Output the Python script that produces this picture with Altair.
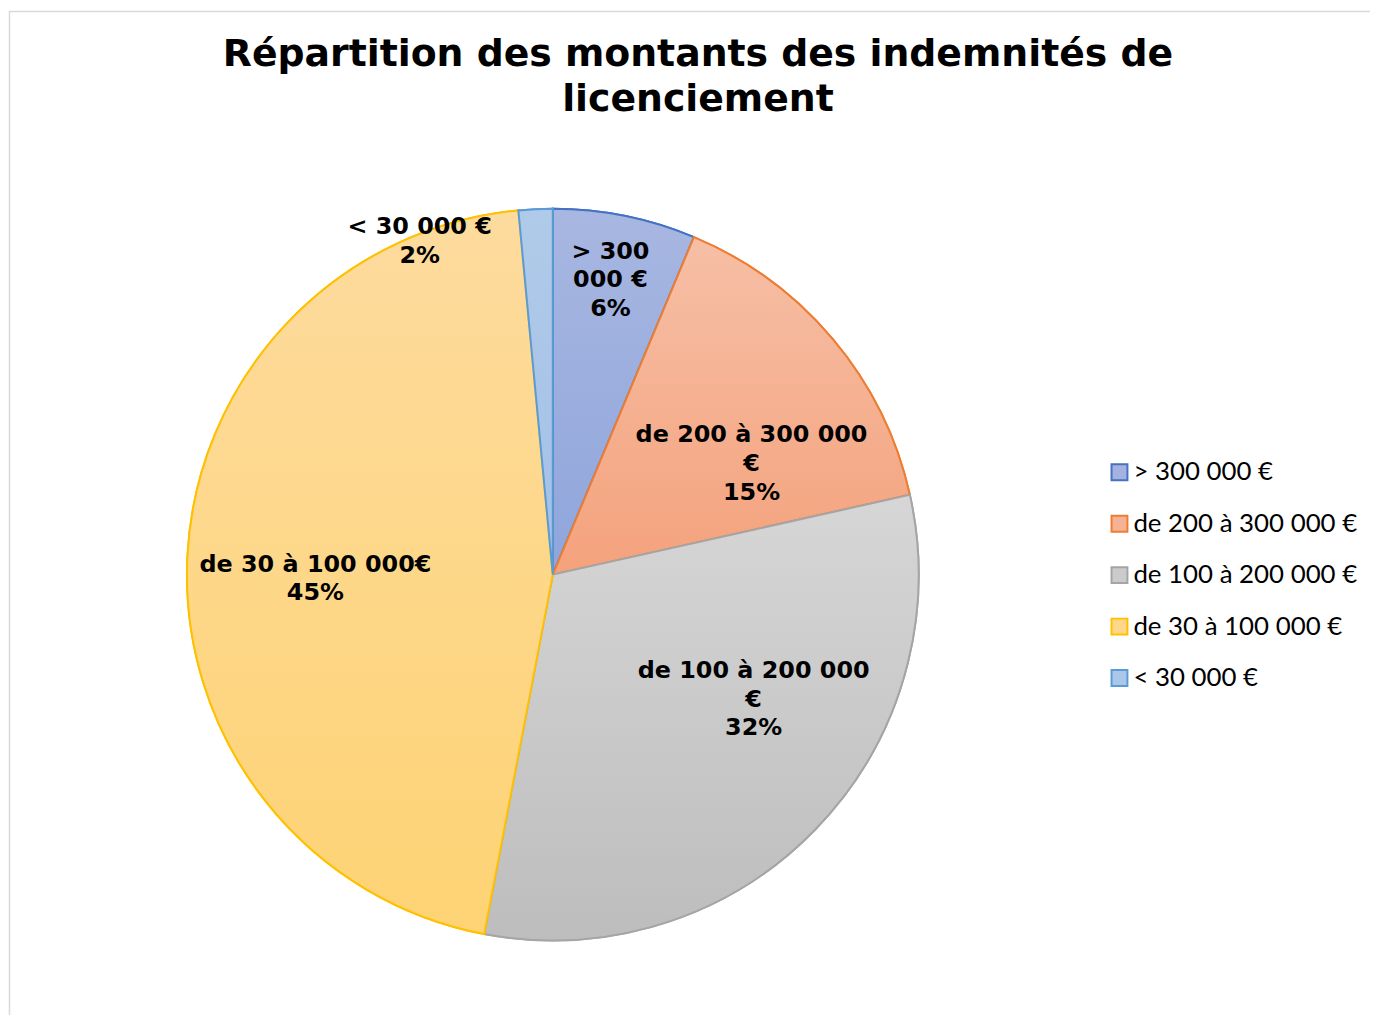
import altair as alt
import pandas as pd

# ---- data ----
categories = ["> 300 000 €", "de 200 à 300 000 €", "de 100 à 200 000 €",
              "de 30 à 100 000 €", "< 30 000 €"]
values = [6.3, 15.2, 31.5, 45.5, 1.5]
slice_texts = ["> 300\n000 €\n6%", "de 200 à 300 000\n€\n15%",
               "de 100 à 200 000\n€\n32%", "de 30 à 100 000€\n45%",
               "< 30 000 €\n2%"]

# ---- label layout (best-fit placement of the first line, not data) ----
label_radius = [330, 244, 224, 239, 374]
label_shift = [-0.34, 1.38, -5.14, -0.08, -5.08]

# ---- styles ----
fills = ["#a3b2df", "#f5b294", "#cbcbcb", "#fed888", "#aac6e8"]
strokes = ["#4472c4", "#ed7d31", "#a5a5a5", "#ffc000", "#5b9bd5"]
grad_top = ["#a8b7e1", "#f6bfa6", "#d6d6d6", "#fddb9e", "#b0cae9"]
grad_bot = ["#8fa5db", "#f4a27c", "#bdbdbd", "#fed374", "#a3c0e6"]

df = pd.DataFrame({"cat": categories, "v": values, "idx": list(range(len(values))),
                   "lab": slice_texts, "lr": label_radius, "shift": label_shift})

CX, CY, R = 548, 567, 368
theta_scale = alt.Scale(domain=[0, 100])


def grad(c1, c2):
    return {"gradient": "linear", "x1": 0, "y1": 0, "x2": 0, "y2": 1,
            "stops": [{"offset": 0, "color": c1}, {"offset": 1, "color": c2}]}


legend = alt.Legend(orient="none", legendX=1105, legendY=451, title=None,
                    labelFont="Lato", labelFontSize=26, labelColor="black",
                    symbolType="square", symbolSize=256, symbolStrokeWidth=2,
                    rowPadding=25.75, labelOffset=1, padding=0, labelLimit=400)

base = alt.Chart(df)

arcs = base.mark_arc(radius=R, strokeWidth=2).encode(
    theta=alt.Theta("v:Q", stack=True, scale=theta_scale),
    order=alt.Order("idx:Q"),
    color=alt.Color("cat:N", scale=alt.Scale(domain=categories, range=fills), legend=legend),
    stroke=alt.Stroke("cat:N", scale=alt.Scale(domain=categories, range=strokes), legend=legend),
    x=alt.value(CX), y=alt.value(CY),
)

n = len(categories)
fill_cond = [{"test": f"datum.idx == {i}", "value": grad(grad_top[i], grad_bot[i])} for i in range(n - 1)]
stroke_cond = [{"test": f"datum.idx == {i}", "value": strokes[i]} for i in range(n - 1)]

overlay = base.mark_arc(radius=R, strokeWidth=2).encode(
    theta=alt.Theta("v:Q", stack=True, scale=theta_scale),
    order=alt.Order("idx:Q"),
    fill=alt.value(grad(grad_top[n - 1], grad_bot[n - 1]), condition=fill_cond),
    stroke=alt.value(strokes[n - 1], condition=stroke_cond),
    x=alt.value(CX), y=alt.value(CY),
)

texts = base.transform_window(
    cum="sum(v)", sort=[alt.SortField("idx")], frame=[None, 0]
).transform_calculate(
    mid="datum.cum - datum.v / 2 + datum.shift"
).mark_text(
    font="DejaVu Sans", fontWeight="bold", fontSize=24, lineBreak="\n",
    lineHeight=29, align="center", baseline="middle", color="black"
).encode(
    theta=alt.Theta("mid:Q", stack=False, scale=theta_scale),
    radius=alt.Radius("lr:Q", scale=None),
    text="lab:N",
    x=alt.value(CX), y=alt.value(CY),
)

frame_df = pd.DataFrame({"a": [0]})
border_top = alt.Chart(frame_df).mark_rule(color="#d9d9d9", strokeWidth=1.5).encode(
    x=alt.value(1), x2=alt.value(1370), y=alt.value(0.5))
border_left = alt.Chart(frame_df).mark_rule(color="#d9d9d9", strokeWidth=1.5).encode(
    x=alt.value(1.5), y=alt.value(0), y2=alt.value(1010))

chart = alt.layer(border_top, border_left, arcs, overlay, texts).properties(
    width=1370, height=1010,
    autosize=alt.AutoSizeParams(type="none"),
    padding=0,
    background="white",
    title=alt.TitleParams(
        text=["Répartition des montants des indemnités de", "licenciement"],
        font="DejaVu Sans", fontSize=38, fontWeight="bold", color="black",
        anchor="middle", lineHeight=45, frame="group", offset=-109, dx=9),
).configure_view(stroke=None)

chart.save("out.html", embed_options={"renderer": "svg", "actions": False})
